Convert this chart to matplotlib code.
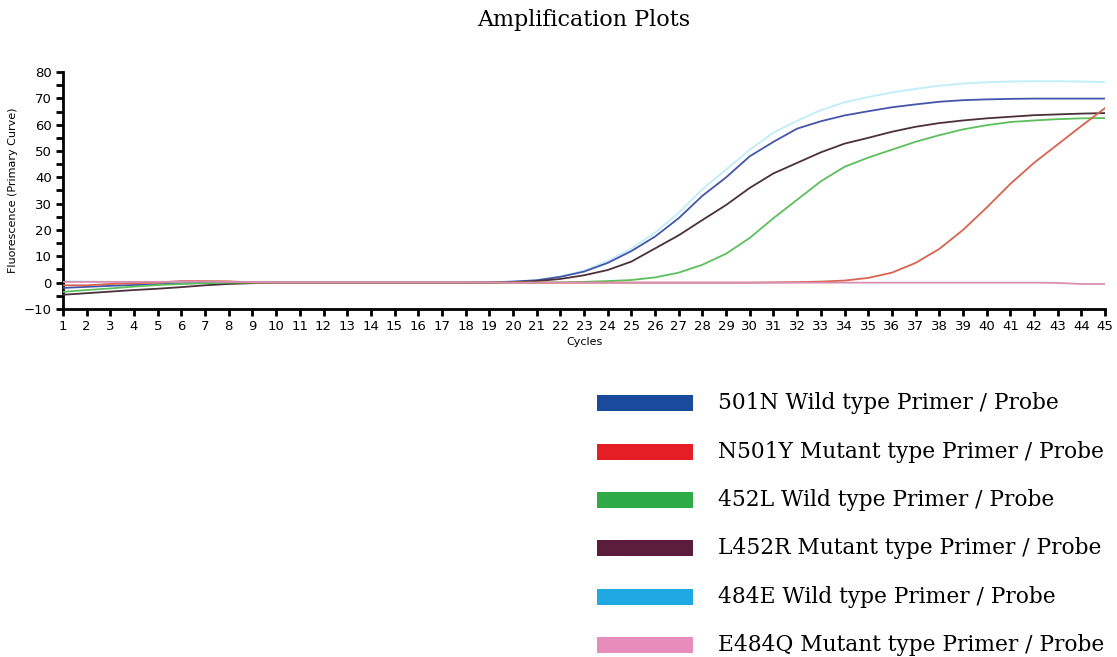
import matplotlib
matplotlib.use("Agg")
import matplotlib.pyplot as plt
from matplotlib.patches import Rectangle
from matplotlib.ticker import MultipleLocator

cycles = list(range(1, 46))

# fluorescence per cycle
wt_501n = [-2.0, -1.6, -1.2, -0.9, -0.6, -0.3, -0.1, 0, 0, 0, 0, 0, 0, 0, 0, 0, 0, 0,
           0.1, 0.4, 0.9, 2.2, 4.2, 7.5, 12.0, 17.5, 24.5, 33.0, 40.0, 48.0, 53.5, 58.5,
           61.3, 63.5, 65.1, 66.6, 67.7, 68.7, 69.3, 69.6, 69.8, 69.9, 69.9, 69.9, 69.9]
mt_n501y = [-1.0, -1.0, -0.5, -0.2, 0, 0.6, 0.6, 0.5, 0.1, 0, 0, 0, 0, 0, 0, 0, 0, 0,
            0, 0, 0, 0, 0, 0, 0, 0, 0, 0, 0, 0, 0.1, 0.2, 0.4, 0.8, 1.8, 3.8, 7.5, 12.8,
            20.0, 28.5, 37.5, 45.5, 52.5, 59.5, 66.3]
wt_452l = [-3.5, -2.8, -2.2, -1.5, -0.9, -0.5, -0.2, 0, 0, 0, 0, 0, 0, 0, 0, 0, 0, 0,
           0, 0, 0, 0.1, 0.3, 0.6, 1.0, 2.0, 3.8, 6.8, 11.0, 17.0, 24.5, 31.5, 38.5,
           44.0, 47.5, 50.5, 53.5, 56.0, 58.2, 59.8, 61.0, 61.6, 62.1, 62.4, 62.5]
mt_l452r = [-4.6, -4.0, -3.4, -2.8, -2.3, -1.7, -1.0, -0.5, -0.2, 0, 0, 0, 0, 0, 0, 0,
            0, 0, 0, 0.2, 0.6, 1.4, 2.8, 4.8, 8.0, 13.0, 18.0, 23.8, 29.5, 36.0, 41.5,
            45.5, 49.5, 52.8, 55.0, 57.3, 59.2, 60.6, 61.6, 62.4, 63.0, 63.6, 63.9,
            64.2, 64.4]
wt_484e = [0.5, 0.4, 0.3, 0.3, 0.2, 0.2, 0.1, 0, 0, 0, 0, 0, 0, 0, 0, 0, 0, 0, 0.1,
           0.4, 1.0, 2.4, 4.6, 8.2, 13.0, 19.0, 26.5, 35.5, 43.0, 50.5, 57.0, 61.5,
           65.5, 68.5, 70.5, 72.2, 73.6, 74.8, 75.6, 76.1, 76.4, 76.5, 76.5, 76.4, 76.2]
mt_e484q = [0.3, 0.3, 0.3, 0.3, 0.3, 0.4, 0.4, 0.3, 0.2, 0.1, 0.1, 0.1, 0.1, 0.1, 0.1,
            0.1, 0.1, 0.1, 0.1, 0, 0, 0, 0, 0, 0, 0, 0, 0, 0, 0, 0, 0, 0, 0, 0, 0, 0,
            0, 0, 0, 0, 0, -0.1, -0.5, -0.5]

labels = ["501N Wild type Primer / Probe",
          "N501Y Mutant type Primer / Probe",
          "452L Wild type Primer / Probe",
          "L452R Mutant type Primer / Probe",
          "484E Wild type Primer / Probe",
          "E484Q Mutant type Primer / Probe"]
series = [wt_501n, mt_n501y, wt_452l, mt_l452r, wt_484e, mt_e484q]
line_colors = ["#4455aa", "#d9634f", "#5cbf5c", "#4a3038", "#bfeefa", "#d98fb0"]
legend_colors = ["#1a4a9c", "#e41e24", "#2eaa48", "#5a1e3c", "#1fa8e2", "#e88cbc"]

fig = plt.figure(figsize=(11.17, 6.57), dpi=100)
ax = fig.add_axes([0.0564, 0.5297, 0.9329, 0.3607])

# draw light cyan first so the others sit on top
order = [4, 0, 3, 2, 1, 5]
for i in order:
    ax.plot(cycles, series[i], color=line_colors[i], lw=1.3, zorder=2 + order.index(i))

ax.set_xlim(1, 45)
ax.set_ylim(-10, 80)
ax.set_xticks(cycles)
ax.yaxis.set_major_locator(MultipleLocator(10))
ax.yaxis.set_minor_locator(MultipleLocator(5))
for s in ["top", "right"]:
    ax.spines[s].set_visible(False)
for s in ["left", "bottom"]:
    ax.spines[s].set_linewidth(2)
ax.tick_params(axis="both", which="major", direction="out", width=2, length=5,
               labelsize=9.5, pad=3)
ax.tick_params(axis="y", which="minor", direction="out", width=2, length=5)
ax.set_xlabel("Cycles", fontsize=8, labelpad=3)
ax.set_ylabel("Fluorescence (Primary Curve)", fontsize=8, labelpad=2)
ax.yaxis.set_label_coords(-0.043, 0.5)

fig.text(0.5226, 0.969, "Amplification Plots", family="DejaVu Serif", fontsize=16,
         ha="center", va="center")

# legend block on the lower right
ys = [403, 452, 500, 548, 597, 645]
for y, lab, c in zip(ys, labels, legend_colors):
    fy = 1 - y / 657
    fig.add_artist(Rectangle((597 / 1117, fy - 8 / 657), 96 / 1117, 16 / 657,
                             transform=fig.transFigure, color=c, lw=0))
    fig.text(718 / 1117, fy, lab, family="DejaVu Serif", fontsize=15.7,
             ha="left", va="center")

fig.savefig("out.png", dpi=100)
